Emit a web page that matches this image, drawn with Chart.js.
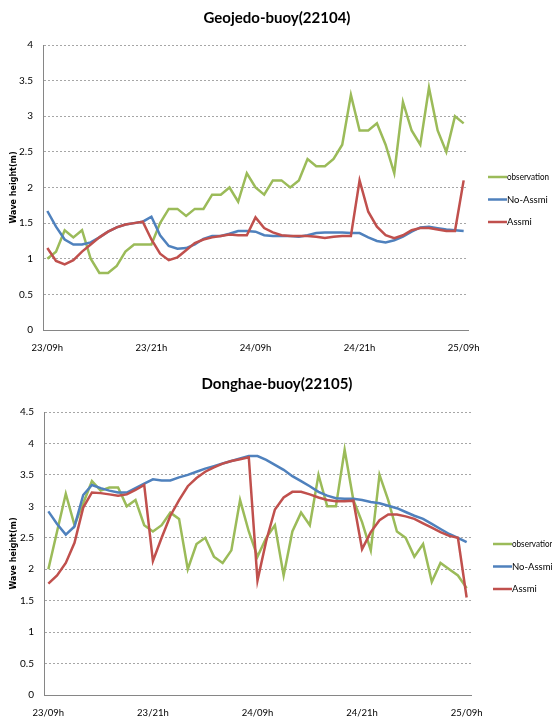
<!DOCTYPE html>
<html>
<head>
<meta charset="utf-8">
<script src="https://cdn.jsdelivr.net/npm/chart.js@4"></script>
<style>
  html, body { margin: 0; padding: 0; background: #fff; }
  canvas { display: block; }
</style>
</head>
<body>
<canvas id="geojedo" width="552" height="365"></canvas>
<canvas id="donghae" width="552" height="357"></canvas>
<script>
// hourly categories 23/09h .. 25/09h
const hours = [
  '23/09h','23/10h','23/11h','23/12h','23/13h','23/14h','23/15h','23/16h','23/17h','23/18h','23/19h','23/20h',
  '23/21h','23/22h','23/23h','24/00h','24/01h','24/02h','24/03h','24/04h','24/05h','24/06h','24/07h','24/08h',
  '24/09h','24/10h','24/11h','24/12h','24/13h','24/14h','24/15h','24/16h','24/17h','24/18h','24/19h','24/20h',
  '24/21h','24/22h','24/23h','25/00h','25/01h','25/02h','25/03h','25/04h','25/05h','25/06h','25/07h','25/08h',
  '25/09h'
];
const tickLabels = ['23/09h', '23/21h', '24/09h', '24/21h', '25/09h'];
const seriesNames = ['observation', 'No-Assmi', 'Assmi'];

// Geojedo-buoy(22104)
const geoObs = [1.0,1.1,1.4,1.3,1.4,1.0,0.8,0.8,0.9,1.1,1.2,1.2,1.2,
  1.5,1.7,1.7,1.6,1.7,1.7,1.9,1.9,2.0,1.8,2.2,2.0,
  1.9,2.1,2.1,2.0,2.1,2.4,2.3,2.3,2.4,2.6,3.3,2.8,
  2.8,2.9,2.6,2.2,3.2,2.8,2.6,3.4,2.8,2.5,3.0,2.9];
const geoNoAssmi = [1.67,1.45,1.27,1.2,1.2,1.23,1.3,1.38,1.44,1.48,1.5,1.52,1.59,
  1.33,1.18,1.14,1.15,1.2,1.28,1.32,1.32,1.35,1.39,1.39,1.38,
  1.33,1.32,1.32,1.32,1.31,1.33,1.36,1.37,1.37,1.37,1.36,1.36,
  1.3,1.25,1.23,1.26,1.31,1.38,1.44,1.45,1.43,1.41,1.4,1.39];
const geoAssmi = [1.15,0.97,0.92,0.98,1.1,1.2,1.3,1.38,1.44,1.48,1.5,1.52,1.27,
  1.07,0.98,1.02,1.12,1.22,1.27,1.3,1.32,1.34,1.33,1.33,1.58,
  1.43,1.37,1.33,1.32,1.32,1.32,1.31,1.29,1.31,1.32,1.32,2.1,
  1.66,1.45,1.33,1.29,1.33,1.4,1.43,1.43,1.41,1.39,1.39,2.1];

// Donghae-buoy(22105)
const dongObs = [2.0,2.6,3.2,2.7,3.05,3.4,3.25,3.3,3.3,3.0,3.1,2.7,2.6,
  2.7,2.9,2.8,2.0,2.4,2.5,2.2,2.1,2.3,3.1,2.6,2.2,
  2.5,2.7,1.9,2.6,2.9,2.7,3.5,3.0,3.0,3.9,3.1,2.75,
  2.3,3.5,3.1,2.6,2.5,2.2,2.4,1.8,2.1,2.0,1.9,1.7];
const dongNoAssmi = [2.92,2.72,2.55,2.68,3.18,3.34,3.29,3.25,3.22,3.22,3.29,3.36,3.43,
  3.41,3.41,3.46,3.5,3.55,3.6,3.64,3.68,3.72,3.76,3.8,3.8,
  3.74,3.66,3.58,3.48,3.4,3.32,3.23,3.17,3.13,3.12,3.12,3.1,
  3.07,3.05,3.01,2.97,2.91,2.85,2.8,2.72,2.64,2.56,2.5,2.43];
const dongAssmi = [1.77,1.9,2.1,2.42,2.98,3.22,3.21,3.19,3.17,3.19,3.26,3.34,2.13,
  2.5,2.85,3.1,3.32,3.45,3.55,3.62,3.68,3.72,3.75,3.78,1.82,
  2.45,2.95,3.14,3.23,3.23,3.19,3.14,3.1,3.08,3.08,3.09,2.32,
  2.59,2.78,2.87,2.87,2.84,2.8,2.73,2.66,2.59,2.53,2.5,1.55];

const colors = ['#9bbb59', '#4f81bd', '#c0504d'];
const smallFont = "'Liberation Sans Narrow', Lato, sans-serif";

// title + legend drawn next to the plot, like the excel sheet
const sideBits = {
  id: 'sideBits',
  afterDraw(chart, args, opts) {
    const ctx = chart.ctx;
    ctx.save();
    ctx.fillStyle = '#000';
    ctx.font = "bold 15px Lato, sans-serif";
    ctx.textAlign = 'center';
    ctx.textBaseline = 'middle';
    ctx.fillText(opts.title, 277, opts.titleY);

    ctx.font = '9.5px ' + smallFont;
    ctx.textAlign = 'left';
    chart.data.datasets.forEach((ds, i) => {
      const y = 177 + i * 22.5 + opts.legendDy;
      ctx.strokeStyle = ds.borderColor;
      ctx.lineWidth = 2.5;
      ctx.beginPath();
      ctx.moveTo(opts.legendX, y);
      ctx.lineTo(opts.legendX + 19, y);
      ctx.stroke();
      ctx.fillStyle = '#000';
      ctx.fillText(ds.label, opts.legendX + 19, y, opts.legendMaxW);
    });
    ctx.restore();
  }
};

function makeChart(id, title, obs, noAssmi, assmi, yMax, box) {
  const series = [obs, noAssmi, assmi];
  new Chart(document.getElementById(id), {
    type: 'line',
    data: {
      labels: hours,
      datasets: seriesNames.map((name, i) => ({
        label: name,
        data: series[i],
        borderColor: colors[i],
        backgroundColor: colors[i],
        borderWidth: 2.5,
        pointRadius: 0,
        tension: 0,
        order: 2 - i
      }))
    },
    options: {
      responsive: false,
      animation: false,
      layout: { padding: { left: 0, right: box.right, top: box.top, bottom: 0 } },
      plugins: {
        legend: { display: false },
        tooltip: { enabled: false },
        sideBits: {
          title: title, titleY: box.titleY, legendX: box.legendX,
          legendDy: box.legendDy, legendMaxW: box.legendMaxW
        }
      },
      scales: {
        x: {
          offset: true,
          grid: { display: false, drawTicks: false },
          border: { color: '#868686', width: 1 },
          afterFit: s => { s.height = box.xHeight; },
          ticks: {
            autoSkip: false,
            maxRotation: 0,
            padding: 12,
            color: '#000',
            font: { family: smallFont, size: 9.5 },
            callback: (v, i) => (i % 12 === 0 ? tickLabels[i / 12] : '')
          }
        },
        y: {
          min: 0,
          max: yMax,
          grid: { color: '#a6a6a6', drawTicks: false },
          border: { color: '#868686', width: 1, dash: [2, 2] },
          afterFit: s => { s.width = box.yWidth; },
          title: {
            display: true,
            text: 'Wave height(m)',
            color: '#000',
            font: { family: 'DejaVu Sans', size: 8, weight: 'bold' },
            padding: { top: 9, bottom: 0 }
          },
          ticks: {
            stepSize: 0.5,
            padding: 10,
            color: '#000',
            font: { family: smallFont, size: 10 },
            callback: v => String(v)
          }
        }
      }
    },
    plugins: [sideBits]
  });
}

makeChart('geojedo', 'Geojedo-buoy(22104)', geoObs, geoNoAssmi, geoAssmi, 4,
  { top: 45, right: 84, xHeight: 35, yWidth: 43, titleY: 18, legendX: 488, legendDy: 0, legendMaxW: 42 });
makeChart('donghae', 'Donghae-buoy(22105)', dongObs, dongNoAssmi, dongAssmi, 4.5,
  { top: 47, right: 81, xHeight: 27, yWidth: 44, titleY: 19, legendX: 493, legendDy: 2, legendMaxW: 42 });
</script>
</body>
</html>
